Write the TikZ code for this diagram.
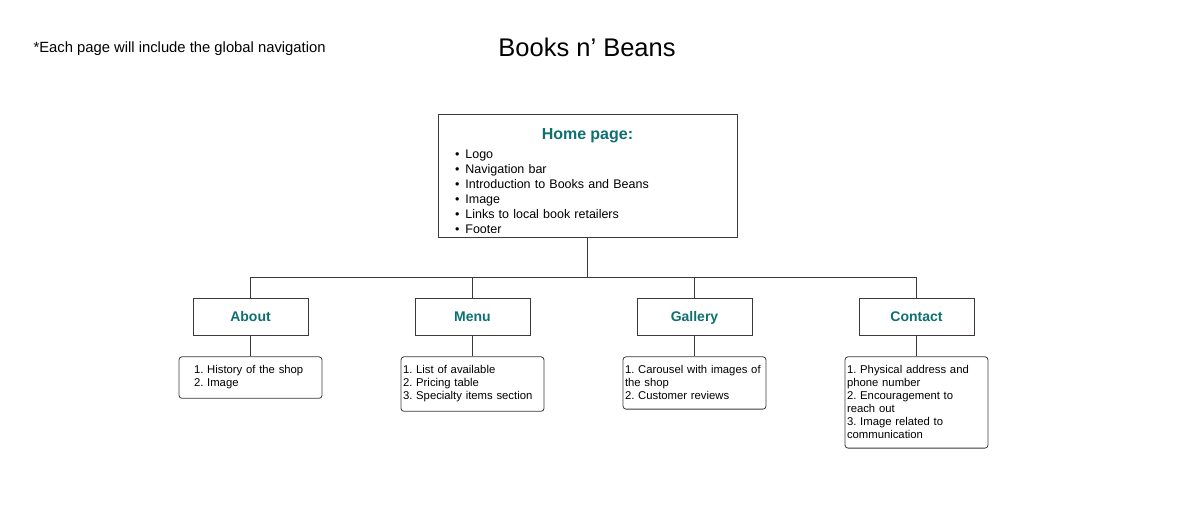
\documentclass[tikz,border=0pt]{standalone}
\usepackage{fontspec}
\setmainfont{Liberation Sans}
\usepackage{tikz}
\usetikzlibrary{positioning}
\definecolor{verde}{HTML}{0F7070}
\definecolor{linea}{HTML}{3E3838}
\frenchspacing
\tikzset{
	every node/.style={text=black}, % Texto negro por defecto
	node distance=222pt, % Distancia entre paginas
	homebox/.style={draw=linea, line width=0.8pt, minimum width=299pt, minimum height=123pt, text width=283pt, inner xsep=8pt, align=left, font=\fontsize{12.5}{15}\selectfont}, % Caja principal
	page/.style={draw=linea, line width=0.8pt, minimum width=115pt, minimum height=37pt, text height=11.5pt, text depth=2pt, font=\fontsize{14}{16}\selectfont\bfseries, text=verde}, % Paginas
	detail/.style={draw=linea, line width=0.8pt, rounded corners=3pt, minimum width=143pt, text width=139pt, inner xsep=2pt, inner ysep=9pt, align=left, font=\fontsize{11.3}{13}\selectfont}, % Contenido de cada pagina
	wire/.style={draw=linea, line width=0.8pt} % Lineas de union
}

\begin{document}
\begin{tikzpicture}
				\useasboundingbox (0,0) rectangle (1185pt,-520pt);
				\node[anchor=west, font=\fontsize{14.8}{17}\selectfont] (nota) at (30pt,-48.5pt) {*Each page will include the global navigation};
				\node[font=\fontsize{25.5}{28}\selectfont] (titulo) at (587pt,-47pt) {Books n’ Beans};
				\node[homebox] (h0) at (587.5pt,-175.5pt) {{\centering\fontsize{16}{18}\selectfont\bfseries\rule{0pt}{22pt}\textcolor{verde}{Home page:}\par}\vspace{4pt}
					\hspace*{9pt}\textbullet\hspace{6pt}Logo\\
					\hspace*{9pt}\textbullet\hspace{6pt}Navigation bar\\
					\hspace*{9pt}\textbullet\hspace{6pt}Introduction to Books and Beans\\
					\hspace*{9pt}\textbullet\hspace{6pt}Image\\
					\hspace*{9pt}\textbullet\hspace{6pt}Links to local book retailers\\
					\hspace*{9pt}\textbullet\hspace{6pt}Footer};
				\node[page] (p1) at (250.5pt,-316.5pt) {About};
				\node[page, right of=p1] (p2) {Menu};
				\node[page, right of=p2] (p3) {Gallery};
				\node[page, right of=p3] (p4) {Contact};
				\node[detail, text width=113pt, below=21pt of p1] (d1) {1. History of the shop\\2. Image};
				\node[detail, below=21pt of p2] (d2) {1. List of available\\2. Pricing table\\3. Specialty items section};
				\node[detail, below=21pt of p3] (d3) {1. Carousel with images of\\the shop\\2. Customer reviews};
				\node[detail, below=21pt of p4] (d4) {1. Physical address and\\phone number\\2. Encouragement to\\reach out\\3. Image related to\\communication};
				\draw[wire] (h0.south) -- ++(0,-40pt) coordinate (b0);
				\draw[wire]	(b0) -| (p1.north)
						(b0) -| (p2.north)
						(b0) -| (p3.north)
						(b0) -| (p4.north)
						(p1) -- (d1)
						(p2) -- (d2)
						(p3) -- (d3)
						(p4) -- (d4);
			\end{tikzpicture}
\end{document}
